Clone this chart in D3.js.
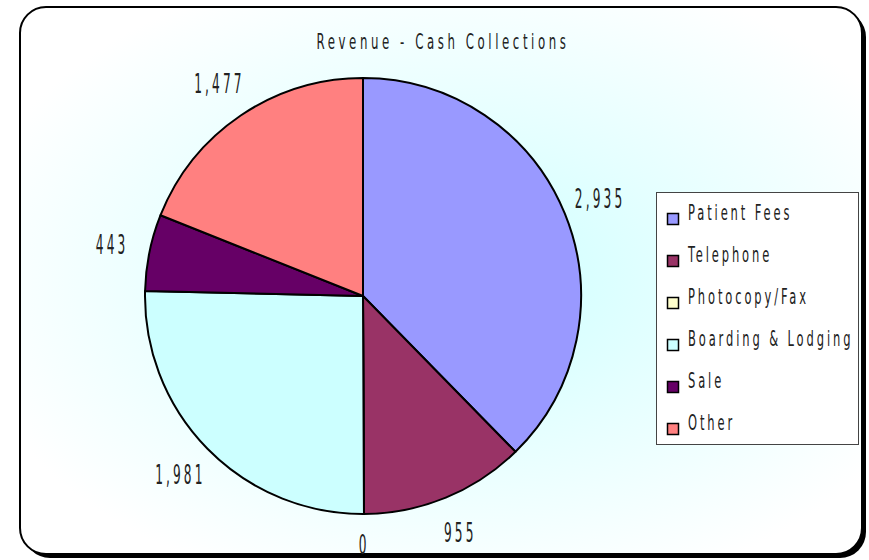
<!DOCTYPE html>
<html>
<head>
<meta charset="utf-8">
<script src="https://cdn.jsdelivr.net/npm/d3@7"></script>
<style>
  body { margin: 0; background: #fff; }
  svg text { font-family: "Liberation Sans Narrow", "DejaVu Sans Condensed", "Liberation Sans", sans-serif; fill: #222; }
</style>
</head>
<body>
<div id="chart"></div>
<script>
// chart data
const categories = ["Patient Fees", "Telephone", "Photocopy/Fax", "Boarding & Lodging", "Sale", "Other"];
const values = [2935, 955, 0, 1981, 443, 1477];
const sliceColors = ["#9999ff", "#993366", "#ffffcc", "#ccffff", "#660066", "#ff8080"];
const chartTitle = "Revenue - Cash Collections";

const width = 869, height = 560;
const cx = 363, cy = 296, radius = 218, labelRadius = 256;

const svg = d3.select("#chart").append("svg")
  .attr("width", width)
  .attr("height", height);

const defs = svg.append("defs");
const grad = defs.append("radialGradient")
  .attr("id", "bg")
  .attr("cx", "52%").attr("cy", "50%").attr("r", "60%");
grad.append("stop").attr("offset", "0%").attr("stop-color", "#ccffff");
grad.append("stop").attr("offset", "45%").attr("stop-color", "#e4ffff");
grad.append("stop").attr("offset", "100%").attr("stop-color", "#ffffff");

// frame with drop shadow
svg.append("rect")
  .attr("x", 24).attr("y", 11)
  .attr("width", 842).attr("height", 547)
  .attr("rx", 26)
  .attr("fill", "#000");
svg.append("rect")
  .attr("x", 20).attr("y", 7)
  .attr("width", 842).attr("height", 547)
  .attr("rx", 26)
  .attr("fill", "url(#bg)")
  .attr("stroke", "#000")
  .attr("stroke-width", 2);

// helper for narrow, spaced text
function narrowText(g, x, y, str, size, sx, spacing, anchor) {
  return g.append("text")
    .attr("transform", "translate(" + x + "," + y + ") scale(" + sx + ",1)")
    .attr("text-anchor", anchor || "middle")
    .attr("dominant-baseline", "central")
    .style("font-size", size + "px")
    .style("letter-spacing", spacing + "px")
    .text(str);
}

narrowText(svg, 443, 41, chartTitle, 22, 0.595, 6);

const pie = d3.pie().sort(null).value((d) => d.value);
const data = categories.map((c, i) => ({ name: c, value: values[i], color: sliceColors[i] }));
const arcs = pie(data);

const arc = d3.arc().innerRadius(0).outerRadius(radius);
const labelArc = d3.arc().innerRadius(labelRadius).outerRadius(labelRadius);

const pieG = svg.append("g").attr("transform", "translate(" + cx + "," + cy + ")");

pieG.selectAll("path")
  .data(arcs)
  .enter()
  .append("path")
  .attr("d", arc)
  .attr("fill", (d) => d.data.color)
  .attr("stroke", "#000")
  .attr("stroke-width", 2)
  .attr("stroke-linejoin", "round");

arcs.forEach(function (d) {
  const p = labelArc.centroid(d);
  // keep the bottom label inside the frame
  narrowText(pieG, p[0], Math.min(p[1], 249), d3.format(",")(d.data.value), 26, 0.52, 6);
});

// legend
const legend = svg.append("g").attr("id", "legend");
legend.append("rect")
  .attr("x", 656.5).attr("y", 192.5)
  .attr("width", 202).attr("height", 252)
  .attr("fill", "#fff")
  .attr("stroke", "#444")
  .attr("stroke-width", 1);

const legendY = d3.scalePoint()
  .domain(categories)
  .range([212, 422]);

categories.forEach(function (c, i) {
  legend.append("rect")
    .attr("x", 667.5).attr("y", legendY(c) + 1.5)
    .attr("width", 11).attr("height", 11)
    .attr("fill", sliceColors[i])
    .attr("stroke", "#000")
    .attr("stroke-width", 1.5);
  narrowText(legend, 688, legendY(c), c, 22, 0.58, 5, "start");
});
</script>
</body>
</html>
